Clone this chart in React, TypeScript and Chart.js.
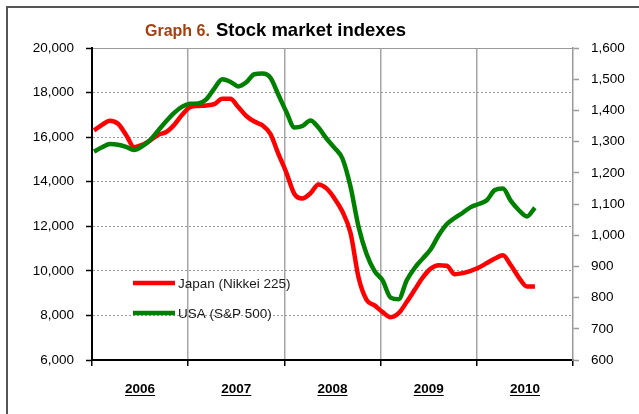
import React, { useEffect, useRef } from "react";
import { Chart, registerables } from "chart.js";

Chart.register(...registerables);

// Years shown along the x axis (each year spans 12 monthly slots)
const YEARS = ["2006", "2007", "2008", "2009", "2010"];

// Monthly values, Jan 2006 .. Aug 2010
const JAPAN_NIKKEI = [
  16300, 16550, 16740, 16600, 16100, 15550, 15650, 15850, 16100, 16230,
  16550, 17000, 17350, 17400, 17420, 17480, 17720, 17720, 17350, 16950,
  16700, 16530, 16150, 15250, 14400, 13450, 13250, 13480, 13880, 13700,
  13250, 12650, 11700, 9700, 8700, 8450, 8150, 7920, 8100, 8600,
  9150, 9700, 10100, 10250, 10230, 9850, 9900, 10000, 10150, 10350,
  10550, 10700, 10250, 9700, 9300, 9300,
];
const USA_SP500 = [
  1268, 1282, 1292, 1290, 1283, 1273, 1285, 1305, 1335, 1365,
  1392, 1412, 1421, 1422, 1435, 1470, 1500, 1492, 1477, 1490,
  1516, 1518, 1505, 1450, 1395, 1345, 1350, 1368, 1345, 1310,
  1280, 1245, 1155, 1027, 940, 885, 855, 800, 795, 855,
  895, 925, 955, 1000, 1035, 1055, 1072, 1090, 1100, 1112,
  1145, 1150, 1110, 1080, 1060, 1088,
];

const LEFT_MIN = 6000;
const LEFT_MAX = 20000;
const LEFT_STEP = 2000;
const RIGHT_MIN = 600;
const RIGHT_MAX = 1600;
const RIGHT_STEP = 100;

const TITLE_PREFIX = "Graph 6.";
const TITLE_MAIN = "Stock market indexes";
const JAPAN_LABEL = "Japan (Nikkei 225)";
const USA_LABEL = "USA (S&P 500)";

const FONT = '"Liberation Sans", Arial, Helvetica, sans-serif';
const fmt = (v: number) => String(v).replace(/\B(?=(\d{3})+(?!\d))/g, ",");

const X_MIN = -0.25;
const X_MAX = X_MIN + YEARS.length * 12;

const decoPlugin = {
  id: "deco",
  afterDraw(chart: any) {
    const { ctx, scales } = chart;
    ctx.save();
    // outer frame (left and top)
    ctx.strokeStyle = "#555";
    ctx.lineWidth = 2;
    ctx.beginPath();
    ctx.moveTo(7, 414);
    ctx.lineTo(7, 7);
    ctx.lineTo(639, 7);
    ctx.stroke();

    // title
    ctx.textBaseline = "alphabetic";
    ctx.textAlign = "left";
    ctx.font = `bold 16px ${FONT}`;
    ctx.fillStyle = "#A5400E";
    ctx.fillText(TITLE_PREFIX, 145, 36);
    const w = ctx.measureText(TITLE_PREFIX).width;
    ctx.font = `bold 18.5px ${FONT}`;
    ctx.fillStyle = "#000";
    ctx.fillText(TITLE_MAIN, 145 + w + 6, 36);

    // year labels (bold, underlined)
    const xs = scales.x;
    ctx.font = `bold 13.5px ${FONT}`;
    ctx.textAlign = "center";
    ctx.textBaseline = "alphabetic";
    ctx.fillStyle = "#000";
    ctx.strokeStyle = "#000";
    ctx.lineWidth = 1;
    YEARS.forEach((y, k) => {
      const cx = xs.getPixelForValue(X_MIN + 12 * k + 6);
      const base = 393;
      ctx.fillText(y, cx, base);
      const tw = ctx.measureText(y).width;
      ctx.beginPath();
      ctx.moveTo(cx - tw / 2, base + 2.5);
      ctx.lineTo(cx + tw / 2, base + 2.5);
      ctx.stroke();
    });

    // legend
    const items = [
      { label: JAPAN_LABEL, color: "#FF0000", y: 283 },
      { label: USA_LABEL, color: "#008000", y: 313 },
    ];
    ctx.font = `13.5px ${FONT}`;
    ctx.textAlign = "left";
    ctx.textBaseline = "middle";
    items.forEach((it) => {
      ctx.strokeStyle = it.color;
      ctx.lineWidth = 4.5;
      ctx.beginPath();
      ctx.moveTo(133, it.y);
      ctx.lineTo(175, it.y);
      ctx.stroke();
      ctx.fillStyle = "#1a1a1a";
      ctx.fillText(it.label, 178, it.y + 1);
    });
    ctx.restore();
  },
};

export default function App() {
  const ref = useRef<HTMLCanvasElement | null>(null);

  useEffect(() => {
    if (!ref.current) return;
    const chart = new Chart(ref.current, {
      type: "line",
      data: {
        datasets: [
          {
            label: USA_LABEL,
            data: USA_SP500.map((v, i) => ({ x: i, y: v })),
            borderColor: "#008000",
            yAxisID: "yR",
          },
          {
            label: JAPAN_LABEL,
            data: JAPAN_NIKKEI.map((v, i) => ({ x: i, y: v })),
            borderColor: "#FF0000",
            yAxisID: "yL",
          },
        ],
      },
      options: {
        responsive: false,
        animation: false,
        devicePixelRatio: 1,
        layout: { padding: { top: 48, left: 0, right: 0, bottom: 0 } },
        plugins: {
          legend: { display: false },
          tooltip: { enabled: false },
          title: { display: false },
        },
        elements: {
          point: { radius: 0 },
          line: {
            borderWidth: 4.5,
            cubicInterpolationMode: "monotone",
            borderCapStyle: "butt",
            borderJoinStyle: "round",
            fill: false,
          },
        },
        scales: {
          x: {
            type: "linear",
            min: X_MIN,
            max: X_MAX,
            afterBuildTicks: (s: any) => {
              const t = YEARS.map((_, k) => ({ value: X_MIN + 12 * k }));
              t.push({ value: X_MAX });
              s.ticks = t;
            },
            ticks: { display: false },
            grid: {
              color: (c: any) =>
                c.index === 0 || c.index === YEARS.length ? "rgba(0,0,0,0)" : "#a6a6a6",
              lineWidth: 1.5,
              tickColor: "#000",
              tickLength: 6,
              tickWidth: 1.5,
            },
            border: { color: "#000", width: 2 },
            afterFit: (s: any) => {
              s.height = 54;
            },
          },
          yL: {
            type: "linear",
            position: "left",
            min: LEFT_MIN,
            max: LEFT_MAX,
            ticks: {
              stepSize: LEFT_STEP,
              padding: 12,
              color: "#000",
              font: { family: FONT, size: 13.5 },
              callback: (v: any) => fmt(Number(v)),
            },
            grid: {
              color: (c: any) =>
                c.tick && c.tick.value === LEFT_MIN ? "rgba(0,0,0,0)" : "#9a9a9a",
              lineWidth: 1,
              tickColor: "#000",
              tickLength: 6,
              tickWidth: 1.5,
            },
            border: {
              color: "#000",
              width: 2,
              dash: (c: any) => (c.tick && c.tick.value === LEFT_MAX ? [] : [2, 2]),
            },
            afterFit: (s: any) => {
              s.width = 92;
            },
          },
          yR: {
            type: "linear",
            position: "right",
            min: RIGHT_MIN,
            max: RIGHT_MAX,
            ticks: {
              stepSize: RIGHT_STEP,
              padding: 12,
              color: "#000",
              font: { family: FONT, size: 13.5 },
              callback: (v: any) => fmt(Number(v)),
            },
            grid: {
              drawOnChartArea: false,
              tickColor: "#999",
              tickLength: 6,
              tickWidth: 1.5,
            },
            border: { color: "#999", width: 1.5 },
            afterFit: (s: any) => {
              s.width = 66;
            },
          },
        },
      } as any,
      plugins: [decoPlugin],
    });
    return () => chart.destroy();
  }, []);

  return (
    <div style={{ position: "absolute", left: 0, top: 0, width: 639, height: 414, background: "#fff" }}>
      <canvas ref={ref} width={639} height={414} style={{ display: "block" }} />
    </div>
  );
}
